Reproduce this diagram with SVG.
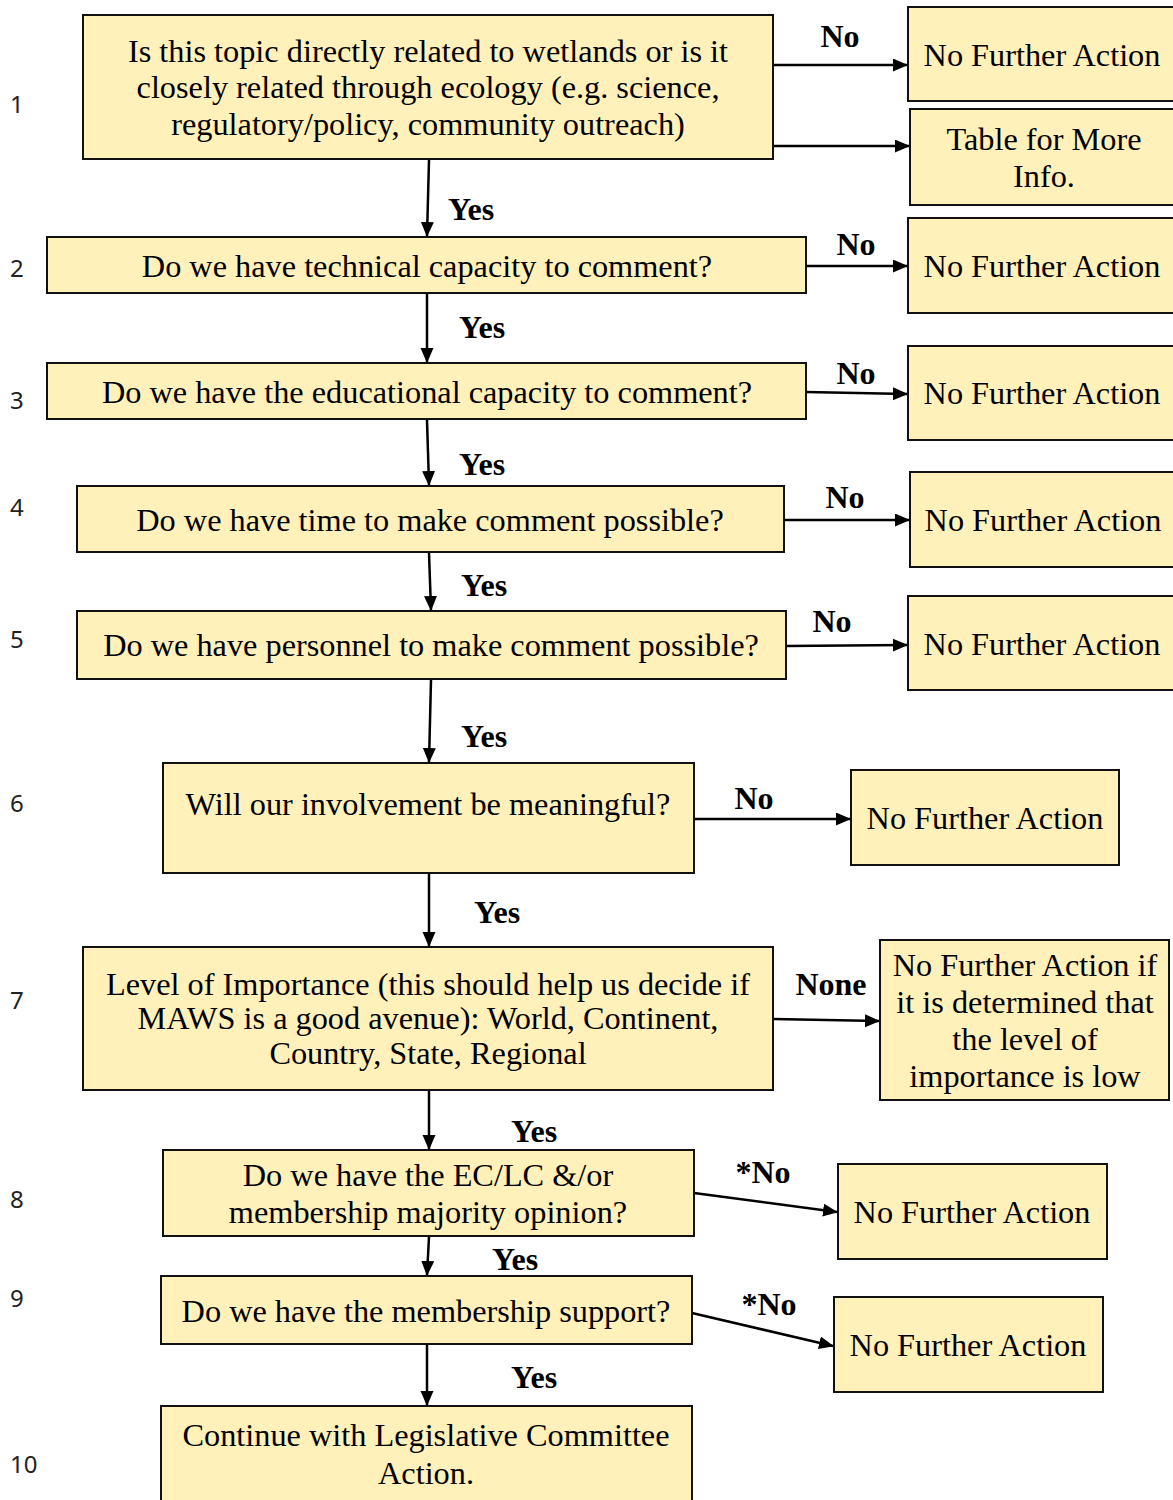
<svg xmlns="http://www.w3.org/2000/svg" width="1173" height="1500" viewBox="0 0 1173 1500">
<style>
.box{fill:#FFF1B9;stroke:#111;stroke-width:2}
.t{font-family:"Liberation Serif","Times New Roman",serif;font-size:32.3px;fill:#000;text-anchor:middle}
.lb{font-family:"Liberation Serif","Times New Roman",serif;font-size:32px;font-weight:bold;fill:#000;text-anchor:middle}
.num{font-family:"Noto Sans","Open Sans",sans-serif;font-size:24px;fill:#222}
.c{stroke:#000;stroke-width:2.5;fill:none;marker-end:url(#ah)}
</style>
<defs>
<marker id="ah" markerUnits="userSpaceOnUse" markerWidth="16" markerHeight="14" refX="14" refY="6.5" orient="auto">
<path d="M0,0 L15,6.5 L0,13 z" fill="#000"/>
</marker>
</defs>
<rect width="1173" height="1500" fill="#fff"/>

<g id="row-numbers">
<text class="num" x="10" y="113">1</text>
<text class="num" x="10" y="277">2</text>
<text class="num" x="10" y="409">3</text>
<text class="num" x="10" y="516">4</text>
<text class="num" x="10" y="648">5</text>
<text class="num" x="10" y="812">6</text>
<text class="num" x="10" y="1009">7</text>
<text class="num" x="10" y="1208">8</text>
<text class="num" x="10" y="1307">9</text>
<text class="num" x="10" y="1473">10</text>
</g>

<g id="connectors">
<line class="c" x1="773" y1="65" x2="907" y2="65"/>
<line class="c" x1="773" y1="146" x2="909" y2="146"/>
<line class="c" x1="429" y1="160" x2="427" y2="236"/>
<line class="c" x1="806" y1="266" x2="907" y2="266"/>
<line class="c" x1="427" y1="294" x2="427" y2="362"/>
<line class="c" x1="806" y1="392" x2="907" y2="394"/>
<line class="c" x1="427" y1="420" x2="429" y2="485"/>
<line class="c" x1="784" y1="520" x2="909" y2="520"/>
<line class="c" x1="429" y1="553" x2="431" y2="610"/>
<line class="c" x1="786" y1="646" x2="907" y2="645"/>
<line class="c" x1="431" y1="680" x2="429" y2="762"/>
<line class="c" x1="694" y1="819" x2="850" y2="819"/>
<line class="c" x1="429" y1="874" x2="429" y2="946"/>
<line class="c" x1="773" y1="1019" x2="879" y2="1021"/>
<line class="c" x1="429" y1="1091" x2="429" y2="1149"/>
<line class="c" x1="694" y1="1193" x2="837" y2="1212"/>
<line class="c" x1="429" y1="1237" x2="427" y2="1275"/>
<line class="c" x1="692" y1="1313" x2="833" y2="1346"/>
<line class="c" x1="427" y1="1345" x2="427" y2="1405"/>
<text class="lb" x="840" y="47">No</text>
<text class="lb" x="471" y="220">Yes</text>
<text class="lb" x="856" y="255">No</text>
<text class="lb" x="482" y="338">Yes</text>
<text class="lb" x="856" y="384">No</text>
<text class="lb" x="482" y="475">Yes</text>
<text class="lb" x="845" y="508">No</text>
<text class="lb" x="484" y="596">Yes</text>
<text class="lb" x="832" y="632">No</text>
<text class="lb" x="484" y="747">Yes</text>
<text class="lb" x="754" y="809">No</text>
<text class="lb" x="497" y="923">Yes</text>
<text class="lb" x="831" y="995">None</text>
<text class="lb" x="534" y="1142">Yes</text>
<text class="lb" x="763" y="1183">*No</text>
<text class="lb" x="515" y="1270">Yes</text>
<text class="lb" x="769" y="1315">*No</text>
<text class="lb" x="534" y="1388">Yes</text>
</g>

<g id="q1">
<rect class="box" x="83" y="15" width="690" height="144"/>
<text class="t" x="428" y="62">Is this topic directly related to wetlands or is it</text>
<text class="t" x="428" y="98">closely related through ecology (e.g. science,</text>
<text class="t" x="428" y="135">regulatory/policy, community outreach)</text>
</g>
<g id="nfa1">
<rect class="box" x="908" y="7" width="270" height="94"/>
<text class="t" x="1042" y="66">No Further Action</text>
</g>
<g id="table-info">
<rect class="box" x="910" y="109" width="268" height="96"/>
<text class="t" x="1044" y="150">Table for More</text>
<text class="t" x="1044" y="187">Info.</text>
</g>

<g id="q2">
<rect class="box" x="47" y="237" width="759" height="56"/>
<text class="t" x="427" y="277">Do we have technical capacity to comment?</text>
</g>
<g id="nfa2">
<rect class="box" x="908" y="218" width="270" height="95"/>
<text class="t" x="1042" y="277">No Further Action</text>
</g>

<g id="q3">
<rect class="box" x="47" y="363" width="759" height="56"/>
<text class="t" x="427" y="403">Do we have the educational capacity to comment?</text>
</g>
<g id="nfa3">
<rect class="box" x="908" y="346" width="270" height="94"/>
<text class="t" x="1042" y="404">No Further Action</text>
</g>

<g id="q4">
<rect class="box" x="77" y="486" width="707" height="66"/>
<text class="t" x="430" y="531">Do we have time to make comment possible?</text>
</g>
<g id="nfa4">
<rect class="box" x="910" y="472" width="268" height="95"/>
<text class="t" x="1043" y="531">No Further Action</text>
</g>

<g id="q5">
<rect class="box" x="77" y="611" width="709" height="68"/>
<text class="t" x="431" y="656">Do we have personnel to make comment possible?</text>
</g>
<g id="nfa5">
<rect class="box" x="908" y="596" width="270" height="94"/>
<text class="t" x="1042" y="655">No Further Action</text>
</g>

<g id="q6">
<rect class="box" x="163" y="763" width="531" height="110"/>
<text class="t" x="428" y="815">Will our involvement be meaningful?</text>
</g>
<g id="nfa6">
<rect class="box" x="851" y="770" width="268" height="95"/>
<text class="t" x="985" y="829">No Further Action</text>
</g>

<g id="q7">
<rect class="box" x="83" y="947" width="690" height="143"/>
<text class="t" x="428" y="995">Level of Importance (this should help us decide if</text>
<text class="t" x="428" y="1029">MAWS is a good avenue): World, Continent,</text>
<text class="t" x="428" y="1064">Country, State, Regional</text>
</g>
<g id="nfa7">
<rect class="box" x="880" y="940" width="289" height="160"/>
<text class="t" x="1025" y="976">No Further Action if</text>
<text class="t" x="1025" y="1013">it is determined that</text>
<text class="t" x="1025" y="1050">the level of</text>
<text class="t" x="1025" y="1087">importance is low</text>
</g>

<g id="q8">
<rect class="box" x="163" y="1150" width="531" height="86"/>
<text class="t" x="428" y="1186">Do we have the EC/LC &amp;/or</text>
<text class="t" x="428" y="1223">membership majority opinion?</text>
</g>
<g id="nfa8">
<rect class="box" x="838" y="1164" width="269" height="95"/>
<text class="t" x="972" y="1223">No Further Action</text>
</g>

<g id="q9">
<rect class="box" x="161" y="1276" width="531" height="68"/>
<text class="t" x="426" y="1322">Do we have the membership support?</text>
</g>
<g id="nfa9">
<rect class="box" x="834" y="1297" width="269" height="95"/>
<text class="t" x="968" y="1356">No Further Action</text>
</g>

<g id="q10">
<rect class="box" x="161" y="1406" width="531" height="110"/>
<text class="t" x="426" y="1446">Continue with Legislative Committee</text>
<text class="t" x="426" y="1484">Action.</text>
</g>
</svg>
